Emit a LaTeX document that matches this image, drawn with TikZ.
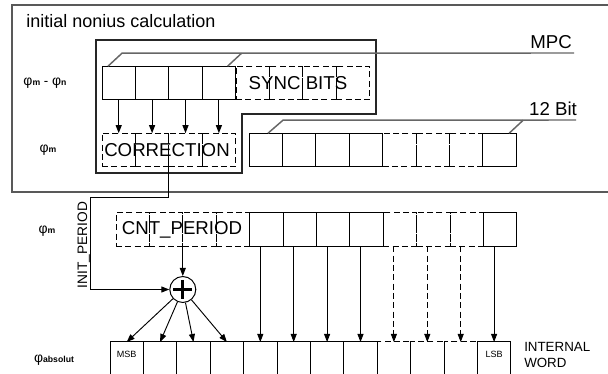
\documentclass[tikz,border=0pt]{standalone}
\usepackage{fontspec}
\setmainfont{Liberation Sans}
\usetikzlibrary{arrows.meta,positioning}

\newcommand{\phisub}[1]{{\fontsize{10.5}{10}\selectfont φ}{\fontsize{6.5}{6}\selectfont\bfseries #1}}

\begin{document}
\begin{tikzpicture}[x=0.75pt, y=-0.75pt,
    cell/.style={draw, line width=0.75pt, minimum width=25.05pt, minimum height=25.2pt, inner sep=0pt, outer sep=0pt},
    dcell/.style={cell, dash pattern=on 4.5pt off 2.5pt},
    wcell/.style={cell, minimum height=30pt},
    dwcell/.style={wcell, dash pattern=on 4.5pt off 2.5pt},
    txt/.style={font=\fontsize{14}{16}\selectfont, inner sep=0pt},
    small/.style={font=\fontsize{6.8}{8}\selectfont, inner sep=0pt},
    arr/.style={-{Triangle[length=6pt,width=4.5pt]}, line width=0.7pt},
    darr/.style={arr, dash pattern=on 4.5pt off 2.5pt},
    frame/.style={draw=black!65, line width=1.1pt},
    inframe/.style={draw=black!85, line width=0.8pt},
    brk/.style={draw=black!60, line width=1.1pt}
]
\useasboundingbox (0,0) rectangle (608,374);

% frames
\draw[frame] (12,5) rectangle (615,192);
\draw[inframe] (96,40) -- (376,40) -- (376,114) -- (242,114) -- (242,173) -- (96,173) -- cycle;
\node[txt, anchor=west, font=\fontsize{13.5}{16}\selectfont] (title) at (26,21) {initial nonius calculation};

% row labels
\node (ldiff) at (45,83) {\phisub{m} - \phisub{n}};
\node (lm) at (48,150) {\phisub{m}};
\node (lcnt) at (47,231) {\phisub{m}};
\node (labs) at (54,360) {\phisub{absolut}};

% difference word + sync bits
\foreach \i in {1,...,4} {
  \node[dcell] (s\i) at ({236+33.4*(\i-0.5)},83) {};
  \node[cell] (d\i) at ({102+33.4*(\i-0.5)},83) {};
  \node[dcell] (c\i) at ({102+33.4*(\i-0.5)},150) {};
}
\node[txt] (sync) at (298,83) {SYNC BITS};
\node[txt] (corr) at (167,150) {CORRECTION};
\draw[brk] ([xshift=4.5pt]d1.north west) -- ++(14,-13) -- (574,53);
\draw[brk] ([xshift=-6pt]d4.north east) -- ++(14,-13);
\node[txt] (mpc) at (551,42) {MPC};

% 12 bit word
\foreach \i in {5,6,7}
  \node[dcell] (b\i) at ({249+33.4*(\i-0.5)},150) {};
\foreach \i in {1,2,3,4,8}
  \node[cell] (b\i) at ({249+33.4*(\i-0.5)},150) {};
\draw[brk] ([xshift=14.25pt]b1.north west) -- ++(15,-13) -- (576,120);
\draw[brk] ([xshift=-5.25pt]b8.north east) -- ++(14,-13);
\node[txt] (bits) at (553,109) {12 Bit};

% period counter
\foreach \i in {1,...,4}
  \node[dcell] (p\i) at ({116+33.4*(\i-0.5)},229.5) {};
\foreach \i in {5,6,7}
  \node[dcell] (q\i) at ({249.6+33.4*(\i-0.5)},229.5) {};
\foreach \i in {1,2,3,4,8}
  \node[cell] (q\i) at ({249.6+33.4*(\i-0.5)},229.5) {};
\node[txt] (cnt) at (182,229.5) {CNT\_PERIOD};

% internal word
\foreach \i in {9,10,11}
  \node[dwcell] (w\i) at ({110+33.4*(\i-0.5)},362) {};
\foreach \i in {1,...,8,12}
  \node[wcell] (w\i) at ({110+33.4*(\i-0.5)},362) {};
\node[small, below=7pt of w1.north] (msb) {MSB};
\node[small, below=7pt of w12.north] (lsb) {LSB};
\node[anchor=west, align=left, inner sep=0pt, font=\fontsize{10}{12}\selectfont] (iw) at (524,355) {INTERNAL\\WORD};

% adder
\node[draw, circle, line width=0.75pt, minimum size=19.5pt, inner sep=0pt] (sum) at (p2.south east |- 0,289.5) {};
\draw[line width=2.2pt] (sum.center) ++(-9.5,0) -- ++(19,0);
\draw[line width=2.2pt] (sum.center) ++(0,-9.5) -- ++(0,19);

% connectors
\foreach \i in {1,...,4} {
  \draw[arr] (d\i) -- (c\i);
  \draw[arr] (sum) -- (w\i.north);
}
\foreach \i in {5,...,8,12}
  \draw[arr] (w\i.north |- q1.south) -- (w\i.north);
\foreach \i in {9,10,11}
  \draw[darr] (w\i.north |- q1.south) -- (w\i.north);
\draw[arr] (p2.south east) -- (sum);
\coordinate (ibend) at (90,197);
\draw[arr] (c2.south east) |- (ibend) |- (sum.west);
\node[rotate=90, inner sep=0pt, font=\fontsize{10.3}{12}\selectfont, anchor=south] (init) at (ibend |- 0,245) {INIT\_PERIOD};
\end{tikzpicture}
\end{document}
